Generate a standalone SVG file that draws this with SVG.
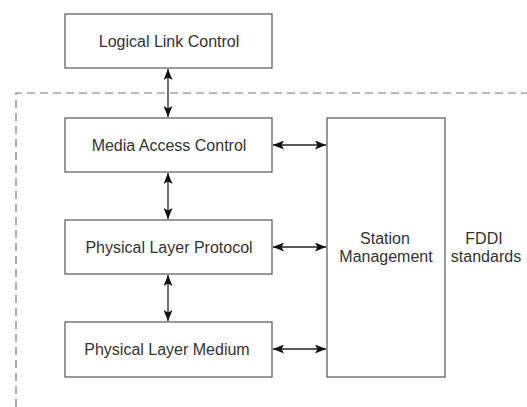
<svg xmlns="http://www.w3.org/2000/svg" width="527" height="407" viewBox="0 0 527 407">
<style>
.box{fill:#fff;stroke:#555;stroke-width:1.2}
.lbl{font-family:"Liberation Sans",Arial,sans-serif;font-size:16px;fill:#333;text-anchor:middle}
.con{stroke:#222;stroke-width:1.3;fill:none;marker-start:url(#ah);marker-end:url(#ah)}
.dash{stroke:#777;stroke-width:1.2;fill:none;stroke-dasharray:8 5}
</style>
<defs>
<marker id="ah" viewBox="0 0 11 9" refX="11" refY="4.5" markerWidth="11" markerHeight="9" markerUnits="userSpaceOnUse" orient="auto-start-reverse">
<path d="M0,0 L11,4.5 L0,9 L2.5,4.5 Z" fill="#111"/>
</marker>
</defs>
<rect width="527" height="407" fill="#fff"/>
<path class="dash" d="M16,407 L16,93 L527,93"/>
<g id="llc"><rect class="box" x="65" y="14" width="207" height="54"/><text class="lbl" x="169" y="47">Logical Link Control</text></g>
<g id="mac"><rect class="box" x="65" y="118" width="207" height="54"/><text class="lbl" x="169" y="151">Media Access Control</text></g>
<g id="plp"><rect class="box" x="65" y="220" width="207" height="54"/><text class="lbl" x="169" y="253">Physical Layer Protocol</text></g>
<g id="plm"><rect class="box" x="65" y="322" width="207" height="55"/><text class="lbl" x="167" y="355">Physical Layer Medium</text></g>
<g id="smt"><rect class="box" x="327" y="118" width="118" height="259"/><text class="lbl" x="385" y="244">Station</text><text class="lbl" x="386" y="262">Management</text></g>
<g id="fddi"><text class="lbl" x="484" y="244">FDDI</text><text class="lbl" x="486" y="262">standards</text></g>
<g id="connectors">
<line class="con" x1="168" y1="69" x2="168" y2="117"/>
<line class="con" x1="168" y1="173" x2="168" y2="219"/>
<line class="con" x1="168" y1="275" x2="168" y2="321"/>
<line class="con" x1="273" y1="145" x2="326" y2="145"/>
<line class="con" x1="273" y1="247" x2="326" y2="247"/>
<line class="con" x1="273" y1="349" x2="326" y2="349"/>
</g>
</svg>
